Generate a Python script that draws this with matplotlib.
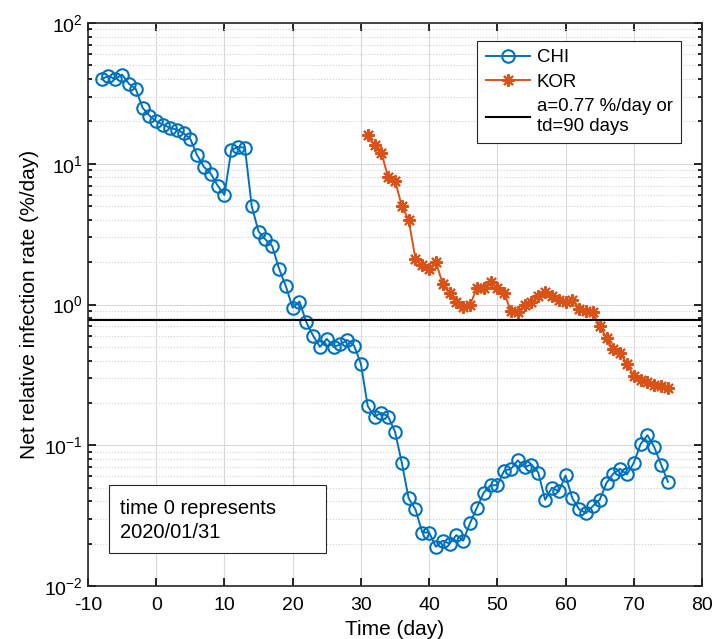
import numpy as np
import matplotlib
matplotlib.use("Agg")
import matplotlib.pyplot as plt
from matplotlib.patches import Rectangle
from matplotlib.ticker import LogLocator, NullFormatter

# ─── Data ────────────────────────────────────────────────────────────────────
chi_days = list(range(-8, 76))
chi_rate = [
    40, 42, 40, 43, 37, 34, 25, 22, 20, 19,      # -8 .. 1
    18, 17.5, 16.5, 15, 11.5, 9.5, 8.5, 7, 6, 12.5,  # 2 .. 11
    13.2, 13, 5, 3.3, 2.9, 2.6, 1.8, 1.35, 0.95, 1.05,  # 12 .. 21
    0.75, 0.6, 0.5, 0.57, 0.5, 0.52, 0.56, 0.51, 0.38, 0.19,  # 22 .. 31
    0.16, 0.17, 0.16, 0.125, 0.075, 0.042, 0.035, 0.024, 0.024, 0.019,  # 32 .. 41
    0.021, 0.02, 0.023, 0.021, 0.028, 0.036, 0.046, 0.052, 0.052, 0.066,  # 42 .. 51
    0.068, 0.078, 0.07, 0.073, 0.064, 0.041, 0.05, 0.047, 0.061, 0.042,  # 52 .. 61
    0.035, 0.033, 0.037, 0.041, 0.054, 0.063, 0.068, 0.062, 0.075, 0.102,  # 62 .. 71
    0.118, 0.097, 0.073, 0.055,  # 72 .. 75
]

kor_days = list(range(31, 76))
kor_rate = [
    16, 13.5, 12, 8, 7.6, 5.0, 4.0, 2.1, 1.9, 1.8,  # 31 .. 40
    2.0, 1.4, 1.2, 1.05, 0.96, 1.0, 1.3, 1.3, 1.45, 1.3,  # 41 .. 50
    1.2, 0.9, 0.88, 1.0, 1.05, 1.15, 1.22, 1.15, 1.07, 1.05,  # 51 .. 60
    1.07, 0.93, 0.9, 0.88, 0.7, 0.58, 0.48, 0.45, 0.38, 0.31,  # 61 .. 70
    0.29, 0.28, 0.27, 0.265, 0.255,  # 71 .. 75
]

ref_rate = 0.77
x_ticks = list(range(-10, 81, 10))

# ─── Plot ────────────────────────────────────────────────────────────────────
plt.rcParams['font.family'] = ['Liberation Sans', 'DejaVu Sans']
plt.rcParams['axes.unicode_minus'] = False

fig = plt.figure(figsize=(7.13, 6.39), dpi=100)
ax = fig.add_axes([0.1234, 0.0829, 0.8612, 0.8811])

ax.plot(chi_days, chi_rate, color='#0072BD', marker='o', markersize=9,
        markerfacecolor='none', markeredgewidth=1.5, linewidth=1.4, label='CHI')
ax.plot(kor_days, kor_rate, color='#D95319', marker=(8, 2, 0), markersize=9,
        markeredgewidth=1.5, linewidth=1.4, label='KOR')
ax.axhline(ref_rate, color='black', linewidth=1.5,
           label='a=0.77 %/day or\ntd=90 days')

ax.set_yscale('log')
ax.set_xlim(-10, 80)
ax.set_ylim(1e-2, 1e2)
ax.set_xticks(x_ticks)
ax.yaxis.set_major_locator(LogLocator(base=10, numticks=10))
ax.yaxis.set_minor_locator(LogLocator(base=10, subs=np.arange(2, 10), numticks=10))
ax.yaxis.set_minor_formatter(NullFormatter())

ax.grid(True, which='major', color='#d9d9d9', linewidth=0.8)
ax.grid(True, which='minor', axis='y', color='#d0d0d0', linestyle=':', linewidth=0.8)
ax.set_axisbelow(True)

ax.tick_params(which='both', direction='in', top=True, right=True,
               labelsize=14, width=1.2)
ax.tick_params(which='major', length=6)
ax.tick_params(which='minor', length=3)
ax.tick_params(axis='x', pad=8)
for sp in ax.spines.values():
    sp.set_linewidth(1.2)
    sp.set_color('#262626')

ax.set_xlabel('Time (day)', fontsize=15)
ax.set_ylabel('Net relative infection rate (%/day)', fontsize=15)

leg = ax.legend(loc='upper right', bbox_to_anchor=(0.9658, 0.968), fontsize=13.4,
                fancybox=False, edgecolor='#262626', framealpha=1,
                handlelength=2.4, handletextpad=0.35, borderpad=0.45,
                labelspacing=0.4, borderaxespad=0)
leg.get_frame().set_linewidth(0.8)

# note box (fixed size, text left-aligned inside)
ax.add_patch(Rectangle((0.034, 0.0586), 0.354, 0.1204, transform=ax.transAxes,
                       facecolor='white', edgecolor='#262626', linewidth=0.8,
                       zorder=5))
ax.text(0.052, 0.117, 'time 0 represents\n2020/01/31', transform=ax.transAxes,
        fontsize=14.5, va='center', ha='left', linespacing=1.35, zorder=6)

fig.savefig('out.png', dpi=100)
